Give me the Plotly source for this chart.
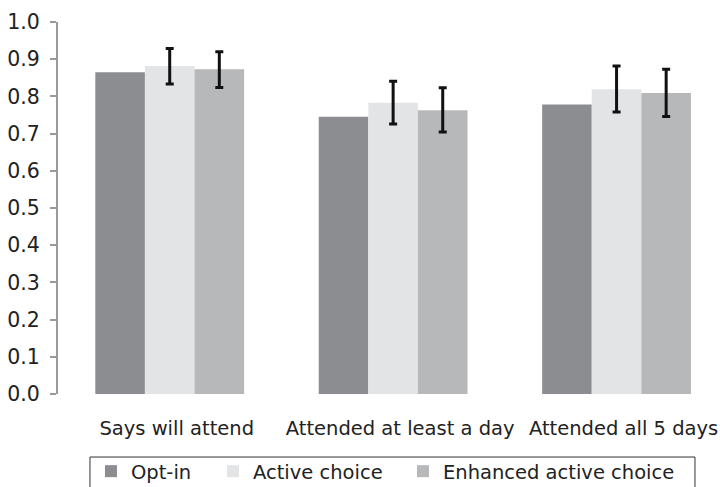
import plotly.graph_objects as go

categories = ["Says will attend", "Attended at least a day", "Attended all 5 days"]
series_names = ["Opt-in", "Active choice", "Enhanced active choice"]

opt_in = [0.865, 0.745, 0.778]
active = [0.882, 0.783, 0.819]
enhanced = [0.873, 0.763, 0.809]

active_err_plus = [0.047, 0.058, 0.063]
active_err_minus = [0.049, 0.057, 0.061]
enhanced_err_plus = [0.047, 0.060, 0.064]
enhanced_err_minus = [0.049, 0.059, 0.063]

colors = ["#8c8d90", "#e3e4e6", "#b7b8ba"]

font_family = "DejaVu Sans"
text_color = "#222222"

err_style = dict(type="data", symmetric=False, color="#111111", thickness=3, width=4)

fig = go.Figure()
fig.add_trace(go.Bar(name=series_names[0], x=categories, y=opt_in,
                     marker=dict(color=colors[0], line=dict(width=0)),
                     legend="legend"))
fig.add_trace(go.Bar(name=series_names[1], x=categories, y=active,
                     marker=dict(color=colors[1], line=dict(width=0)),
                     error_y=dict(array=active_err_plus, arrayminus=active_err_minus, **err_style),
                     legend="legend2"))
fig.add_trace(go.Bar(name=series_names[2], x=categories, y=enhanced,
                     marker=dict(color=colors[2], line=dict(width=0)),
                     error_y=dict(array=enhanced_err_plus, arrayminus=enhanced_err_minus, **err_style),
                     legend="legend3"))

legend_common = dict(orientation="h", xanchor="left", y=-0.1559, yanchor="top",
                     borderwidth=0, bgcolor="rgba(0,0,0,0)",
                     font=dict(family=font_family, size=19.5, color=text_color))

fig.update_layout(
    width=720, height=487,
    margin=dict(l=58, r=0, t=22, b=93, autoexpand=False),
    paper_bgcolor="white", plot_bgcolor="white",
    barmode="group", bargap=0.334, bargroupgap=0,
    font=dict(family=font_family, size=19.5, color=text_color),
    showlegend=True,
    legend=dict(x=0.0498, **legend_common),
    legend2=dict(x=0.2341, **legend_common),
    legend3=dict(x=0.5211, **legend_common),
    shapes=[dict(type="rect", xref="paper", yref="paper",
                 x0=0.0483, x1=0.9622, y0=-0.1694, y1=-0.40,
                 line=dict(color="#333333", width=1), fillcolor="rgba(0,0,0,0)",
                 layer="above")],
    xaxis=dict(range=[-0.5, 2.463], showline=False, showgrid=False, zeroline=False,
               automargin=False,
               ticks="", tickfont=dict(size=19.5, color=text_color),
               ticklabelstandoff=20, ticklabelshift=7),
    yaxis=dict(range=[0, 1.0], dtick=0.1, tickformat=".1f", showgrid=False, zeroline=False,
               automargin=False,
               showline=True, linecolor="#9a9a9a", linewidth=2,
               ticks="outside", ticklen=6, tickcolor="#9a9a9a", tickwidth=1.5,
               ticklabelstandoff=6,
               tickfont=dict(size=20.5, color=text_color)),
)

fig.write_html("out.html", config={"displayModeBar": False},
               post_script="document.body.style.margin='0';document.body.style.overflow='hidden';")
